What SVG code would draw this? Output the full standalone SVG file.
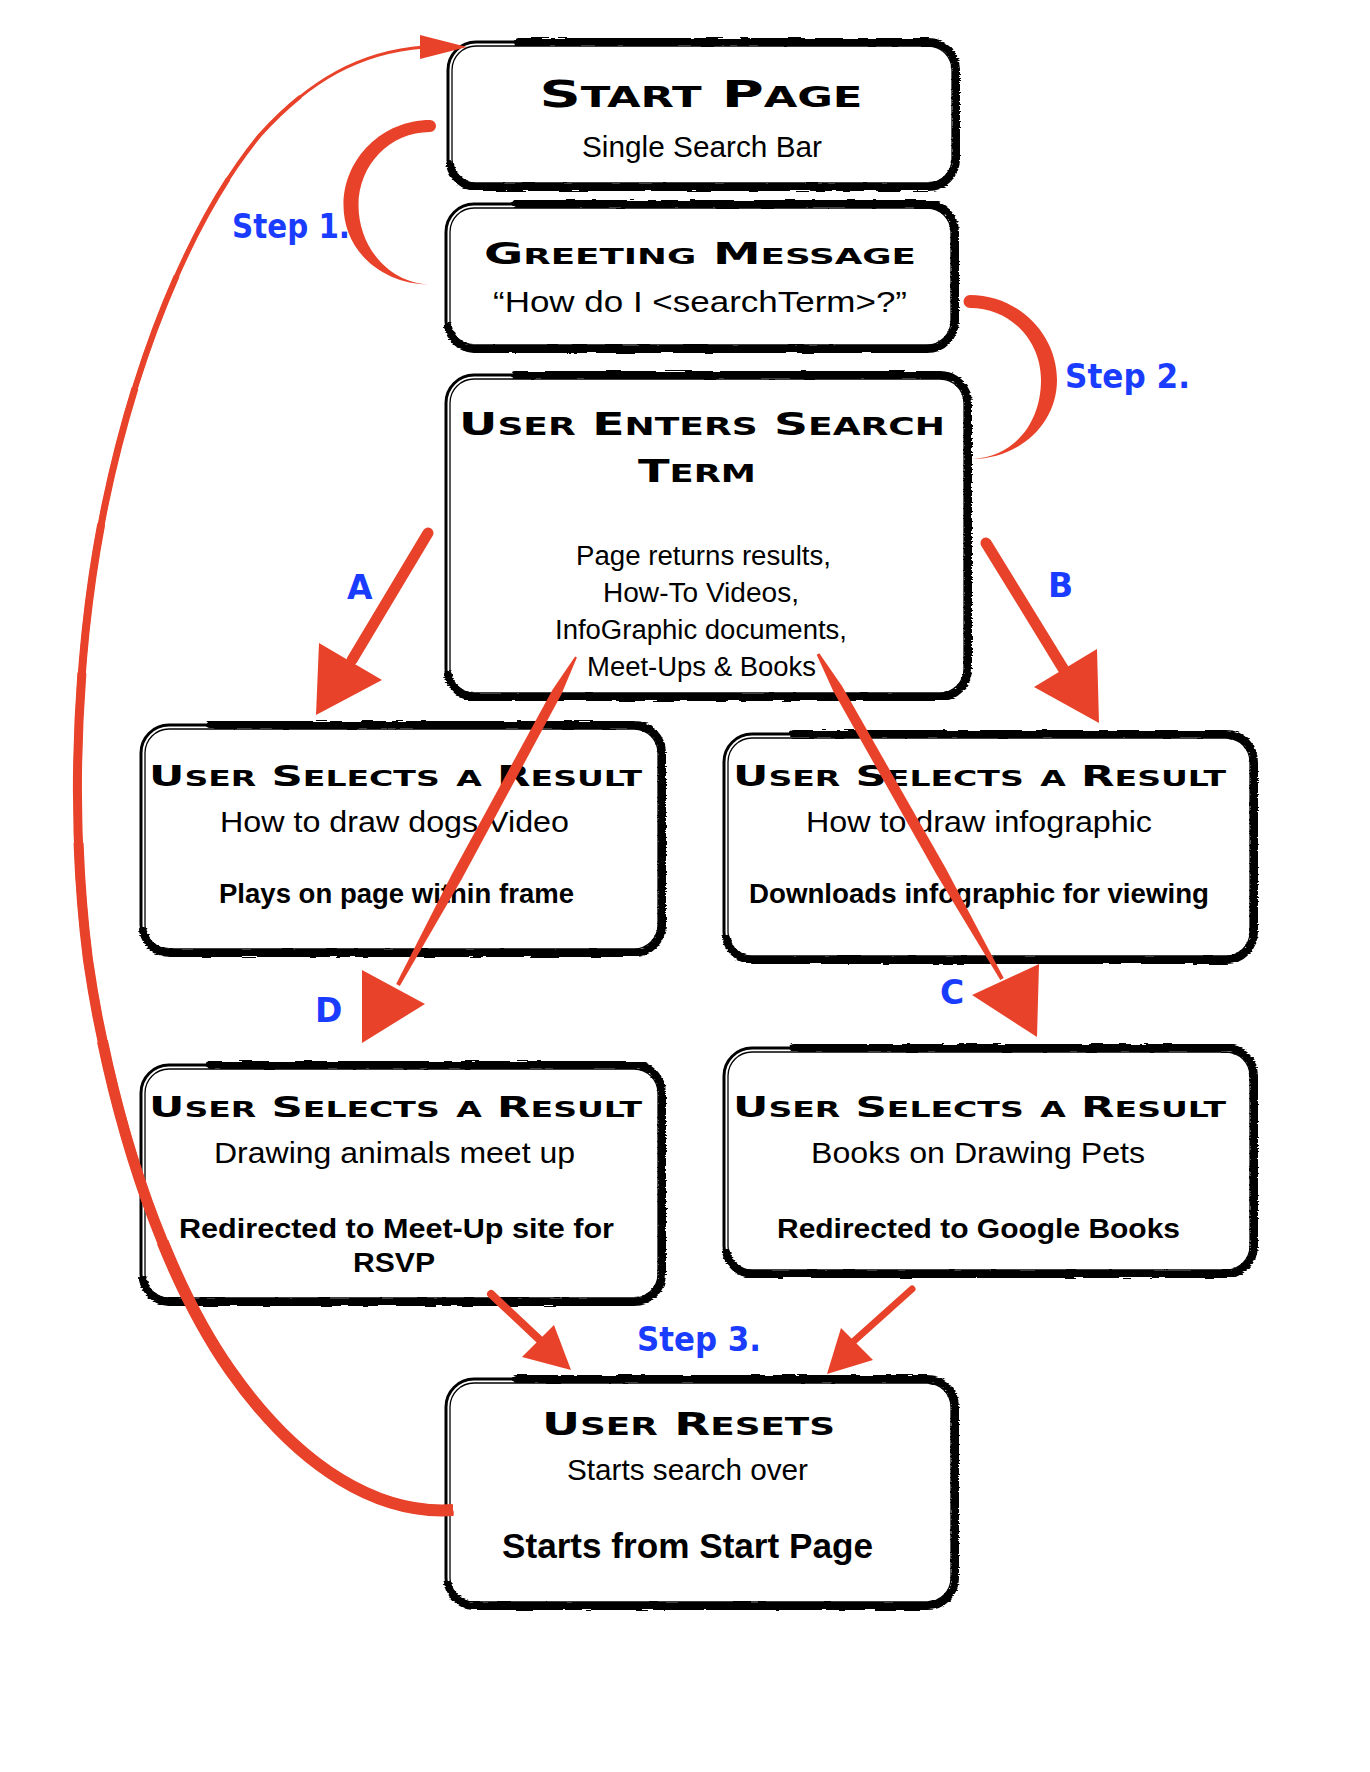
<svg xmlns="http://www.w3.org/2000/svg" width="1370" height="1772" viewBox="0 0 1370 1772">
<defs>
<style>
.bx{fill:#fff;stroke:#000;stroke-width:3}
.bx2{fill:none;stroke:#000;stroke-width:1.3}
.br{fill:none;stroke:#000;stroke-width:8;stroke-linecap:round;filter:url(#rough)}
.bd{fill:none;stroke:#000;stroke-width:11;stroke-linecap:round;filter:url(#rough)}
.t{font-family:"DejaVu Sans",sans-serif;font-weight:bold;font-variant:small-caps;text-anchor:middle;fill:#000}
.r{font-family:"Liberation Sans",Arial,sans-serif;font-size:30px;text-anchor:middle;fill:#000}
.s{font-family:"Liberation Sans",Arial,sans-serif;font-size:27px;text-anchor:middle;fill:#000}
.b{font-family:"Liberation Sans",Arial,sans-serif;font-size:27px;font-weight:bold;text-anchor:middle;fill:#000}
.lb{font-family:"DejaVu Sans",sans-serif;font-size:33px;font-weight:bold;fill:#1a3cff}
.red{fill:#e8432a}
.rs{fill:none;stroke:#e8432a;stroke-linecap:round}
.cv{fill:none;stroke:#e8432a;stroke-linecap:butt}
</style>
<filter id="rough" x="-5%" y="-10%" width="110%" height="120%">
<feTurbulence type="fractalNoise" baseFrequency="0.05 0.7" numOctaves="2" seed="4" result="n"/>
<feDisplacementMap in="SourceGraphic" in2="n" scale="4" xChannelSelector="R" yChannelSelector="G"/>
</filter>
<path id="ret" d="M453,1510 C380,1515 300,1470 230,1370 C160,1270 110,1110 88,960 C70,820 75,650 105,505 C135,360 190,220 260,135 C310,80 360,52 424,47"/>
</defs>
<rect width="1370" height="1772" fill="#fff"/>

<g id="node-start">
<rect class="bx" x="448" y="42" width="508" height="145" rx="28"/>
<rect class="bx2" x="452" y="46" width="500" height="137" rx="24"/>
<path class="br" d="M518,42 H928 A28,28 0 0 1 956,70 V159 A28,28 0 0 1 928,187 H476 A28,28 0 0 1 450,165"/>
<path class="bd" d="M535,41 H728"/>
<text class="t" x="701" y="107" font-size="37" textLength="323" lengthAdjust="spacingAndGlyphs">S<tspan font-size="40">tart</tspan> P<tspan font-size="40">age</tspan></text>
<text class="r" x="702" y="157" textLength="240" lengthAdjust="spacingAndGlyphs">Single Search Bar</text>
</g>

<g id="node-greeting">
<rect class="bx" x="446" y="204" width="509" height="145" rx="28"/>
<rect class="bx2" x="450" y="208" width="501" height="137" rx="24"/>
<path class="br" d="M516,204 H927 A28,28 0 0 1 955,232 V321 A28,28 0 0 1 927,349 H474 A28,28 0 0 1 448,327"/>
<path class="bd" d="M533,203 H726"/>
<text class="t" x="700" y="264" font-size="29.5" textLength="432" lengthAdjust="spacingAndGlyphs">G<tspan font-size="32">reeting</tspan> M<tspan font-size="32">essage</tspan></text>
<text class="r" x="700" y="312" textLength="414" lengthAdjust="spacingAndGlyphs">“How do I &lt;searchTerm&gt;?”</text>
</g>

<g id="node-enters">
<rect class="bx" x="446" y="375" width="522" height="322" rx="28"/>
<rect class="bx2" x="450" y="379" width="514" height="314" rx="24"/>
<path class="br" d="M516,375 H940 A28,28 0 0 1 968,403 V669 A28,28 0 0 1 940,697 H474 A28,28 0 0 1 448,675"/>
<path class="bd" d="M535,374 H733"/>
<text class="t" x="702" y="435" font-size="31.5" textLength="486" lengthAdjust="spacingAndGlyphs">U<tspan font-size="34">ser</tspan> E<tspan font-size="34">nters</tspan> S<tspan font-size="34">earch</tspan></text>
<text class="t" x="697" y="482" font-size="31.5" textLength="118" lengthAdjust="spacingAndGlyphs">T<tspan font-size="34">erm</tspan></text>
<text class="s" x="703.5" y="565" textLength="255" lengthAdjust="spacingAndGlyphs">Page returns results,</text>
<text class="s" x="701" y="602" textLength="196" lengthAdjust="spacingAndGlyphs">How-To Videos,</text>
<text class="s" x="701" y="639" textLength="292" lengthAdjust="spacingAndGlyphs">InfoGraphic documents,</text>
<text class="s" x="701.5" y="676" textLength="229" lengthAdjust="spacingAndGlyphs">Meet-Ups &amp; Books</text>
</g>

<g id="node-result-a">
<rect class="bx" x="141" y="725" width="521" height="228" rx="28"/>
<rect class="bx2" x="145" y="729" width="513" height="220" rx="24"/>
<path class="br" d="M211,725 H634 A28,28 0 0 1 662,753 V925 A28,28 0 0 1 634,953 H169 A28,28 0 0 1 143,931"/>
<path class="bd" d="M230,724 H428"/>
<text class="t" x="395.5" y="786" font-size="29" textLength="493" lengthAdjust="spacingAndGlyphs">U<tspan font-size="31.5">ser</tspan> S<tspan font-size="31.5">elects a</tspan> R<tspan font-size="31.5">esult</tspan></text>
<text class="r" x="394.5" y="832" textLength="349" lengthAdjust="spacingAndGlyphs">How to draw dogs Video</text>
<text class="b" x="396.5" y="903" textLength="355" lengthAdjust="spacingAndGlyphs">Plays on page within frame</text>
</g>

<g id="node-result-b">
<rect class="bx" x="724" y="734" width="530" height="226" rx="28"/>
<rect class="bx2" x="728" y="738" width="522" height="218" rx="24"/>
<path class="br" d="M794,734 H1226 A28,28 0 0 1 1254,762 V932 A28,28 0 0 1 1226,960 H752 A28,28 0 0 1 726,938"/>
<path class="bd" d="M814,733 H1015"/>
<text class="t" x="979.5" y="786" font-size="29" textLength="493" lengthAdjust="spacingAndGlyphs">U<tspan font-size="31.5">ser</tspan> S<tspan font-size="31.5">elects a</tspan> R<tspan font-size="31.5">esult</tspan></text>
<text class="r" x="979" y="832" textLength="346" lengthAdjust="spacingAndGlyphs">How to draw infographic</text>
<text class="b" x="979" y="903" textLength="460" lengthAdjust="spacingAndGlyphs">Downloads infographic for viewing</text>
</g>

<g id="node-result-d">
<rect class="bx" x="141" y="1065" width="521" height="237" rx="28"/>
<rect class="bx2" x="145" y="1069" width="513" height="229" rx="24"/>
<path class="br" d="M211,1065 H634 A28,28 0 0 1 662,1093 V1274 A28,28 0 0 1 634,1302 H169 A28,28 0 0 1 143,1280"/>
<path class="bd" d="M230,1064 H428"/>
<text class="t" x="395.5" y="1117" font-size="29" textLength="493" lengthAdjust="spacingAndGlyphs">U<tspan font-size="31.5">ser</tspan> S<tspan font-size="31.5">elects a</tspan> R<tspan font-size="31.5">esult</tspan></text>
<text class="r" x="394.5" y="1163" textLength="361" lengthAdjust="spacingAndGlyphs">Drawing animals meet up</text>
<text class="b" x="396.5" y="1238" textLength="435" lengthAdjust="spacingAndGlyphs">Redirected to Meet-Up site for</text>
<text class="b" x="394" y="1272" textLength="82" lengthAdjust="spacingAndGlyphs">RSVP</text>
</g>

<g id="node-result-c">
<rect class="bx" x="724" y="1048" width="530" height="226" rx="28"/>
<rect class="bx2" x="728" y="1052" width="522" height="218" rx="24"/>
<path class="br" d="M794,1048 H1226 A28,28 0 0 1 1254,1076 V1246 A28,28 0 0 1 1226,1274 H752 A28,28 0 0 1 726,1252"/>
<path class="bd" d="M814,1047 H1015"/>
<text class="t" x="979.5" y="1117" font-size="29" textLength="493" lengthAdjust="spacingAndGlyphs">U<tspan font-size="31.5">ser</tspan> S<tspan font-size="31.5">elects a</tspan> R<tspan font-size="31.5">esult</tspan></text>
<text class="r" x="978" y="1163" textLength="334" lengthAdjust="spacingAndGlyphs">Books on Drawing Pets</text>
<text class="b" x="978.5" y="1238" textLength="403" lengthAdjust="spacingAndGlyphs">Redirected to Google Books</text>
</g>

<g id="node-resets">
<rect class="bx" x="446" y="1379" width="509" height="227" rx="28"/>
<rect class="bx2" x="450" y="1383" width="501" height="219" rx="24"/>
<path class="br" d="M516,1379 H927 A28,28 0 0 1 955,1407 V1578 A28,28 0 0 1 927,1606 H474 A28,28 0 0 1 448,1584"/>
<path class="bd" d="M533,1378 H726"/>
<text class="t" x="688.5" y="1435" font-size="31.5" textLength="293" lengthAdjust="spacingAndGlyphs">U<tspan font-size="34">ser</tspan> R<tspan font-size="34">esets</tspan></text>
<text class="r" x="687.5" y="1480" textLength="241" lengthAdjust="spacingAndGlyphs">Starts search over</text>
<text class="b" x="687.5" y="1558" style="font-size:35px" textLength="371" lengthAdjust="spacingAndGlyphs">Starts from Start Page</text>
</g>

<g id="connectors">
<g id="edge-reset-start">
<use href="#ret" class="cv" stroke-width="3"/>
<use href="#ret" class="cv" stroke-width="4" stroke-dasharray="1630 3000"/>
<use href="#ret" class="cv" stroke-width="5" stroke-dasharray="1520 3000"/>
<use href="#ret" class="cv" stroke-width="6" stroke-dasharray="1410 3000"/>
<use href="#ret" class="cv" stroke-width="7" stroke-dasharray="1290 3000"/>
<use href="#ret" class="cv" stroke-width="8" stroke-dasharray="1150 3000"/>
<use href="#ret" class="cv" stroke-width="9" stroke-dasharray="1000 3000"/>
<use href="#ret" class="cv" stroke-width="10" stroke-dasharray="830 3000"/>
<use href="#ret" class="cv" stroke-width="11" stroke-dasharray="630 3000"/>
<use href="#ret" class="cv" stroke-width="12" stroke-dasharray="420 3000"/>
<polygon class="red" points="420,35 467,47 420,59"/>
</g>
<path id="edge-step1" class="red" d="M430,120 C383,120 343.5,158 343.5,205 C343.5,252 383,284.5 430,284.5 C390,283.5 358.5,248 358.5,205 C358.5,165 390,132 430,132 A6,6 0 0 0 430,120 Z"/>
<path id="edge-step2" class="red" d="M970,295 C1018,295 1057,334 1057,380 C1057,425 1018,459 972,459 C1015,457 1041,422 1041,380 C1041,340 1010,308 970,308 A6.5,6.5 0 0 1 970,295 Z"/>
<g id="edge-a">
<path class="rs" stroke-width="11" d="M428,533 L352,660"/>
<polygon class="red" points="319,643 382,680 316,715"/>
</g>
<g id="edge-b">
<path class="rs" stroke-width="11" d="M986,543 L1064,670"/>
<polygon class="red" points="1034,687 1097,649 1099,723"/>
</g>
<g id="edge-d">
<polygon class="red" points="576.9,657.5 561.3,694.6 461.5,879.4 399.8,986 396.2,984 451.9,874.2 552.5,689.8 575.1,656.5"/>
<polygon class="red" points="362,970 425,1004 362,1043"/>
</g>
<g id="edge-c">
<polygon class="red" points="819.3,653.3 842.1,686.3 946,868.8 1003.7,978 1000.3,980 936.4,874.2 833.3,691.3 816.7,654.7"/>
<polygon class="red" points="972,995 1039,964 1037,1037"/>
</g>
<g id="edge-d-reset">
<path class="rs" stroke-width="8" d="M491,1294 L542,1342"/>
<polygon class="red" points="522,1357 554,1325 571,1370"/>
</g>
<g id="edge-c-reset">
<path class="rs" stroke-width="7" d="M912,1289 L854,1341"/>
<polygon class="red" points="841,1328 873,1360 827,1374"/>
</g>
</g>

<g id="labels">
<text class="lb" x="232" y="238" textLength="118" lengthAdjust="spacingAndGlyphs">Step 1.</text>
<text class="lb" x="1065" y="388" textLength="125" lengthAdjust="spacingAndGlyphs">Step 2.</text>
<text class="lb" x="347" y="599">A</text>
<text class="lb" x="1048" y="597">B</text>
<text class="lb" x="315" y="1022">D</text>
<text class="lb" x="940" y="1004">C</text>
<text class="lb" x="637" y="1351" textLength="124" lengthAdjust="spacingAndGlyphs">Step 3.</text>
</g>
</svg>
